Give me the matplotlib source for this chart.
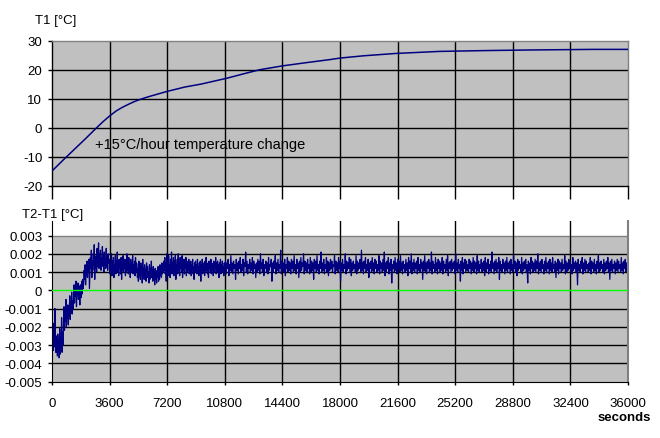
import numpy as np
import matplotlib
matplotlib.use("Agg")
import matplotlib.pyplot as plt

plt.rcParams['font.family'] = ['Liberation Sans', 'DejaVu Sans']

# ---- data ----
t1_time = [0, 700, 1400, 2100, 2800, 3200, 3600, 4000, 4400, 4800, 5200, 5600,
           6000, 6500, 7200, 8300, 9300, 10900, 12000, 13000, 14400, 16000,
           17400, 18000, 19500, 21500, 24200, 27200, 30000, 33800, 36000]
t1_vals = [-15.0, -11.2, -7.5, -3.8, 0.0, 2.1, 4.0, 5.7, 7.0, 8.1, 9.1, 9.9,
           10.6, 11.4, 12.5, 14.0, 15.0, 17.0, 18.6, 20.0, 21.3, 22.5,
           23.5, 24.0, 24.8, 25.6, 26.3, 26.6, 26.8, 27.0, 27.0]

# T2-T1 difference in units of 0.0001 degC, evenly sampled within each span
# span A: 0 .. 3600 s
dT_warmup = [
    -12, -29, -18, -33, -22, -31, -10, -27, -34, -25, -30, -36, -24, -33, -28, -37,
    -21, -35, -26, -31, -15, -34, -23, -30,
    -18, -9, -22, -13, -17, -5, -20, -11, -15, -8, -19, -10, -14, -3, -16, -7,
    -12, -1, -13, -6, -10,
    -4, 3, -7, 1, -3, 5, -9, 0, -2, 4, -5, 2, -1, -8, 3, 0, -4, 5, -2, 6, 1,
    4, 11, 6, 14, 3, 12, 8, 16, 7, 13, 10, 17, 1,
    9, 18, 12, 22, 7, 16, 11, 20, 14, 25, 6, 17, 12, 19, 10, 23, 13, 18,
    26, 12, 20, 14, 22, 11, 18, 13, 24, 15, 19, 10, 21, 14, 17, 12, 23, 13, 19,
    11, 20, 15, 17,
]
# span B: 3600 .. 10800 s
dT_settle = [
    17, 9, 15, 11, 20, 8, 16, 10, 18, 7, 14, 12, 19, 9, 16, 11, 21, 10, 15, 8,
    17, 12, 14, 9, 18, 6, 16, 11, 19, 10, 15, 12, 17, 8, 14, 10, 20, 11, 16, 9,
    18, 12, 13, 7, 17, 10, 15, 11, 19, 9, 14, 12, 16, 8, 18, 10, 15,
    14, 7, 12, 5, 16, 8, 11, 6, 15, 9, 13, 4, 17, 8, 12, 6, 14, 9, 11, 5,
    15, 7, 13, 8, 10, 4, 14, 6, 12, 9, 16, 7, 11, 5, 13, 8, 10, 3, 12, 6,
    9, 4, 11, 7, 13, 5, 10, 6, 14, 8, 12, 7, 15, 9, 13, 10, 16,
    11, 18, 9, 15, 5, 20, 10, 16, 8, 19, 12, 14, 7, 17, 10, 21, 9, 15, 11, 18,
    8, 16, 12, 19, 6, 14, 10, 17, 9, 20, 11, 15, 8, 18, 12, 16, 10, 19, 7, 14,
    11, 17, 9, 15, 12, 18, 8, 16, 10, 14, 11, 17, 9, 15,
    10, 16, 8, 14, 11, 17, 9, 13, 6, 15, 10, 16, 12, 14, 9, 17, 11, 13, 8, 15,
    10, 16, 5, 14, 11, 17, 9, 15, 12, 13, 8, 16, 10, 18, 11, 14, 9, 15, 7, 16,
    12, 14, 10, 17, 9, 15, 11, 13, 8, 16, 10, 14, 12, 18, 9, 15, 11, 16, 10, 14,
    7, 15, 12, 17, 9, 14, 11, 16, 10, 13, 8, 15,
]
# span C: 10800 .. 36000 s
dT_steady = [
    10, 16, 9, 15, 12, 17, 8, 14, 11, 19, 10, 15, 9, 16, 12, 14, 6, 17, 11, 15,
    9, 16, 12, 18, 10, 14, 11, 17, 8, 15, 13, 21, 10, 16, 9, 14, 12, 17, 10, 15,
    11, 18, 9, 16, 12, 14, 7, 15, 10, 17, 11, 16, 9, 20, 12, 15, 10, 17, 8, 14,
    12, 16, 10, 15, 9, 18, 11, 14, 13, 17, 5, 15, 10, 16, 12, 19, 9, 15, 11, 17,
    10, 14, 12, 22, 9, 16, 11, 15, 10, 17, 8, 14, 12, 18, 10, 16, 11, 15, 9, 17,
    12, 16, 10, 19, 11, 14, 9, 17, 12, 15, 7, 16, 10, 18, 11, 15, 13, 20, 9, 16,
    11, 15, 10, 17, 12, 14, 9, 18, 10, 16, 11, 15, 6, 17, 12, 16, 10, 19, 11, 14,
    9, 16, 12, 21, 10, 15, 11, 17, 9, 14, 12, 18, 10, 16, 8, 15, 11, 17, 12, 16,
    10, 14, 13, 19, 9, 16, 11, 15, 10, 18, 12, 16, 5, 15, 11, 17, 10, 14, 12, 20,
    9, 16, 11, 15, 12, 18, 10, 17, 8, 15, 11, 16, 12, 14, 10, 19, 9, 16, 11, 15,
    12, 17, 10, 22, 11, 15, 9, 16, 12, 18, 10, 14, 11, 17, 7, 15, 12, 16, 10, 18,
    11, 15, 9, 17, 12, 16, 10, 14, 11, 19, 9, 16, 12, 15, 10, 17, 11, 21, 8, 15,
    10, 16, 12, 18, 9, 15, 11, 17, 4, 14, 12, 16, 10, 18, 11, 15, 9, 17, 12, 16,
    10, 19, 11, 15, 9, 16, 12, 14, 10, 17, 11, 15, 8, 18, 12, 16, 10, 20, 9, 15,
    11, 17, 10, 15, 12, 16, 9, 18, 11, 14, 10, 17, 12, 15, 6, 16, 11, 19, 10, 15,
    9, 16, 12, 17, 10, 15, 11, 21, 9, 16, 12, 14, 10, 18, 11, 15, 9, 17, 12, 16,
    10, 15, 11, 18, 9, 16, 12, 14, 10, 17, 11, 19, 8, 15, 12, 16, 10, 17, 11, 15,
    12, 16, 9, 20, 11, 15, 10, 17, 12, 14, 5, 16, 11, 18, 9, 15, 12, 17, 10, 16,
    11, 14, 10, 17, 12, 16, 9, 15, 11, 18, 10, 16, 12, 15, 9, 19, 11, 16, 10, 14,
    12, 17, 10, 15, 11, 16, 8, 18, 10, 15, 12, 17, 9, 14, 11, 16, 10, 21, 12, 15,
    9, 16, 11, 17, 10, 15, 12, 18, 6, 16, 11, 14, 10, 17, 12, 15, 9, 16, 11, 18,
    10, 15, 12, 16, 9, 17, 11, 14, 10, 19, 12, 16, 10, 15, 8, 17, 11, 16, 12, 14,
    10, 18, 9, 15, 11, 16, 12, 17, 10, 14, 4, 16, 11, 15, 9, 18, 12, 16, 10, 15,
    11, 17, 10, 16, 12, 20, 9, 15, 11, 16, 10, 17, 12, 14, 9, 16, 11, 18, 10, 15,
    12, 16, 9, 17, 11, 15, 10, 18, 12, 14, 10, 16, 7, 15, 11, 17, 9, 16, 12, 15,
    10, 17, 11, 14, 12, 19, 9, 16, 10, 15, 11, 17, 12, 16, 10, 14, 9, 18, 11, 15,
    12, 16, 10, 15, 3, 17, 11, 14, 10, 16, 12, 18, 9, 15, 11, 17, 10, 16, 12, 14,
    10, 15, 11, 18, 9, 16, 12, 15, 10, 17, 11, 14, 9, 16, 12, 19, 10, 15, 11, 16,
    12, 14, 10, 17, 9, 15, 11, 16, 12, 18, 10, 15, 6, 16, 11, 17, 10, 14, 12, 16,
    9, 15, 11, 17, 10, 16, 12, 14, 10, 18, 11, 15, 9, 16, 12, 17, 10, 15, 11, 16,
]
span_edges = [0, 3600, 10800, 36000]

x_ticks = list(range(0, 36001, 3600))
t1_ticks = [-20, -10, 0, 10, 20, 30]
dt_ticks = [-0.005, -0.004, -0.003, -0.002, -0.001, 0, 0.001, 0.002, 0.003]
dt_tick_labels = ['-0.005', '-0.004', '-0.003', '-0.002', '-0.001', '0',
                  '0.001', '0.002', '0.003']

# ---- style ----
GRAY = '#C0C0C0'
BORDER = '#808080'
NAVY = '#000080'
FS = 9.5

fig = plt.figure(figsize=(6.6, 4.39), dpi=100)
fig.patch.set_facecolor('white')

W_L, W_R = 52 / 660, 628 / 660
ax1 = fig.add_axes([W_L, 1 - 186.5 / 439, W_R - W_L, (186.5 - 41.7) / 439])
ax2 = fig.add_axes([W_L, 1 - 382.5 / 439, W_R - W_L, (382.5 - 222) / 439])

# ---- top panel ----
ax1.set_facecolor(GRAY)
ax1.set_xlim(0, 36000)
ax1.set_ylim(-20, 30)
for v in t1_ticks[1:-1]:
    ax1.axhline(v, color='black', lw=1, zorder=1)
for v in x_ticks[1:-1]:
    ax1.axvline(v, color='black', lw=1, zorder=1)
ax1.plot(t1_time, t1_vals, color=NAVY, lw=1.1, zorder=3)
ax1.text(2700, -5.5, '+15°C/hour temperature change', fontsize=10.5,
         va='center', ha='left', zorder=4)
ax1.set_xticks(x_ticks)
ax1.set_xticklabels([])
ax1.set_yticks(t1_ticks)
ax1.set_yticklabels([str(v) for v in t1_ticks], fontsize=FS)
ax1.tick_params(axis='x', direction='out', length=9.5, width=1, color='black')
ax1.tick_params(axis='y', direction='out', length=3, width=1, pad=4)
ax1.spines['top'].set_color(BORDER)
ax1.spines['right'].set_color(BORDER)
ax1.spines['left'].set_color('black')
ax1.spines['bottom'].set_color('black')
for s in ax1.spines.values():
    s.set_linewidth(1)
fig.text(35 / 660, 1 - 21 / 439, 'T1 [°C]', fontsize=FS, ha='left', va='center')

# ---- bottom panel ----
spans = [dT_warmup, dT_settle, dT_steady]
t_parts, v_parts = [], []
for k, seg in enumerate(spans):
    last = k == len(spans) - 1
    t_parts.append(np.linspace(span_edges[k], span_edges[k + 1], len(seg),
                               endpoint=last))
    v_parts.append(np.array(seg, dtype=float) * 1e-4)
t_dt = np.concatenate(t_parts)
dT = np.concatenate(v_parts)

ax2.set_facecolor('white')
ax2.set_xlim(0, 36000)
ax2.set_ylim(-0.005, 0.0038)
ax2.axhspan(-0.005, 0.003, color=GRAY, zorder=0, lw=0)
for v in dt_ticks[1:-1]:
    if v == 0:
        continue
    ax2.axhline(v, color='black', lw=1, zorder=1)
ax2.axhline(0.003, color=BORDER, lw=1, zorder=1)
for v in x_ticks[1:-1]:
    ax2.axvline(v, color='black', lw=1, zorder=1)
ax2.plot(t_dt, dT, color=NAVY, lw=0.9, zorder=2)
ax2.axhline(0, color='#00FF00', lw=1, zorder=3)
ax2.set_xticks(x_ticks)
ax2.set_xticklabels([str(v) for v in x_ticks], fontsize=FS)
ax2.set_yticks(dt_ticks)
ax2.set_yticklabels(dt_tick_labels, fontsize=FS)
ax2.tick_params(axis='x', direction='out', length=2, width=1, pad=9)
ax2.tick_params(axis='y', direction='out', length=3, width=1, pad=4)
ax2.spines['top'].set_visible(False)
ax2.spines['right'].set_color(BORDER)
ax2.spines['right'].set_linewidth(1.5)
ax2.spines['left'].set_color('black')
ax2.spines['bottom'].set_color('black')
fig.text(22 / 660, 1 - 215 / 439, 'T2-T1 [°C]', fontsize=FS, ha='left', va='center')
fig.text(651 / 660, 1 - 418 / 439, 'seconds', fontsize=FS, fontweight='bold',
         ha='right', va='center')

fig.savefig('out.png', dpi=100, facecolor='white')
